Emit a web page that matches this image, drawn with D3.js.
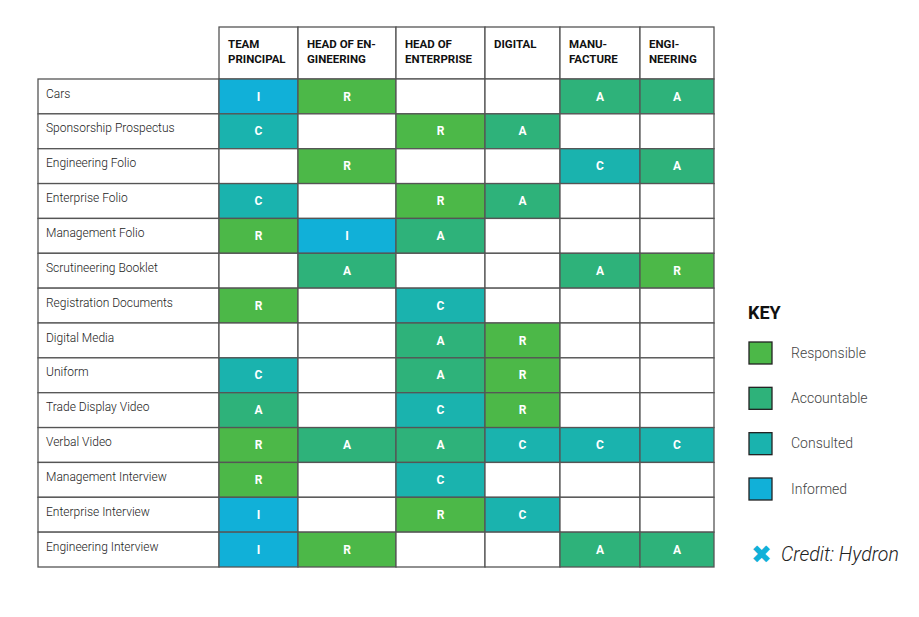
<!DOCTYPE html>
<html><head><meta charset="utf-8">
<script src="https://cdn.jsdelivr.net/npm/d3@7"></script>
<style>body{margin:0;background:#fff}</style>
</head><body>
<svg id="chart" width="919" height="617"></svg>
<script>
const roles = ["TEAM\nPRINCIPAL", "HEAD OF EN-\nGINEERING", "HEAD OF\nENTERPRISE", "DIGITAL", "MANU-\nFACTURE", "ENGI-\nNEERING"];
const tasks = ["Cars", "Sponsorship Prospectus", "Engineering Folio", "Enterprise Folio", "Management Folio",
  "Scrutineering Booklet", "Registration Documents", "Digital Media", "Uniform", "Trade Display Video",
  "Verbal Video", "Management Interview", "Enterprise Interview", "Engineering Interview"];
const matrix = [
  ["I", "R", "", "", "A", "A"],
  ["C", "", "R", "A", "", ""],
  ["", "R", "", "", "C", "A"],
  ["C", "", "R", "A", "", ""],
  ["R", "I", "A", "", "", ""],
  ["", "A", "", "", "A", "R"],
  ["R", "", "C", "", "", ""],
  ["", "", "A", "R", "", ""],
  ["C", "", "A", "R", "", ""],
  ["A", "", "C", "R", "", ""],
  ["R", "A", "A", "C", "C", "C"],
  ["R", "", "C", "", "", ""],
  ["I", "", "R", "C", "", ""],
  ["I", "R", "", "", "A", "A"]
];
const keyCodes = ["R", "A", "C", "I"];
const keyLabels = ["Responsible", "Accountable", "Consulted", "Informed"];

const color = d3.scaleOrdinal().domain(keyCodes).range(["#4cb848", "#2eb27a", "#1ab3ae", "#11b0d8"]);
const svg = d3.select("#chart");
const line = "#555";

const colEdges = [219, 298, 396, 485, 560, 640, 714];
const x = d3.scaleOrdinal().domain(d3.range(roles.length)).range(colEdges.slice(0, -1));
const w = i => colEdges[i + 1] - colEdges[i];
const y = d3.scaleBand().domain(d3.range(tasks.length)).range([79, 567]);

// header
const head = svg.append("g");
roles.forEach((r, i) => {
  head.append("rect").attr("x", x(i)).attr("y", 27).attr("width", w(i)).attr("height", 52)
    .attr("fill", "#fff").attr("stroke", line).attr("stroke-width", 1.3);
  const t = head.append("text").attr("x", x(i) + 9).attr("y", 48)
    .attr("font-family", "Roboto, sans-serif").attr("font-weight", 700).attr("font-size", 11.5).attr("fill", "#111");
  r.split("\n").forEach((s, k) => t.append("tspan").attr("x", x(i) + 9).attr("dy", k ? 15 : 0).text(s));
});

// rows
tasks.forEach((task, j) => {
  svg.append("rect").attr("x", 38).attr("y", y(j)).attr("width", 181).attr("height", y.bandwidth())
    .attr("fill", "#fff").attr("stroke", line).attr("stroke-width", 1.3);
  svg.append("text").attr("x", 46).attr("y", y(j) + y.bandwidth() / 2 - 2).attr("dominant-baseline", "middle")
    .attr("font-family", "Roboto, sans-serif").attr("font-weight", 300).attr("font-size", 12).attr("fill", "#222").text(task);
  matrix[j].forEach((v, i) => {
    svg.append("rect").attr("x", x(i)).attr("y", y(j)).attr("width", w(i)).attr("height", y.bandwidth())
      .attr("fill", v ? color(v) : "#fff").attr("stroke", line).attr("stroke-width", 1.3);
    if (v) svg.append("text").attr("x", x(i) + w(i) / 2).attr("y", y(j) + y.bandwidth() / 2 + 1)
      .attr("text-anchor", "middle").attr("dominant-baseline", "middle")
      .attr("font-family", "Roboto, sans-serif").attr("font-weight", 700).attr("font-size", 12)
      .attr("fill", "#fff").text(v);
  });
});

// key
svg.append("text").attr("x", 748).attr("y", 319).attr("font-family", "Roboto, sans-serif")
  .attr("font-weight", 700).attr("font-size", 18).attr("fill", "#111").text("KEY");
const ky = d3.scalePoint().domain(keyCodes).range([353, 489]);
keyCodes.forEach((c, i) => {
  svg.append("rect").attr("x", 749).attr("y", ky(c) - 11).attr("width", 23).attr("height", 22)
    .attr("fill", color(c)).attr("stroke", "#222").attr("stroke-width", 1.3);
  svg.append("text").attr("x", 791).attr("y", ky(c) + 1).attr("dominant-baseline", "middle")
    .attr("font-family", "Roboto, sans-serif").attr("font-weight", 300).attr("font-size", 14).attr("fill", "#444").text(keyLabels[i]);
});

// credit
svg.append("text").attr("x", 751).attr("y", 563).attr("font-family", "DejaVu Sans, sans-serif")
  .attr("font-weight", 700).attr("font-size", 25).attr("fill", "#11b0d8").text("✖");
svg.append("text").attr("x", 781).attr("y", 561).attr("font-family", "Roboto, sans-serif")
  .attr("font-style", "italic").attr("font-weight", 300).attr("font-size", 19.5).attr("fill", "#222").text("Credit: Hydron");
</script>
</body></html>
